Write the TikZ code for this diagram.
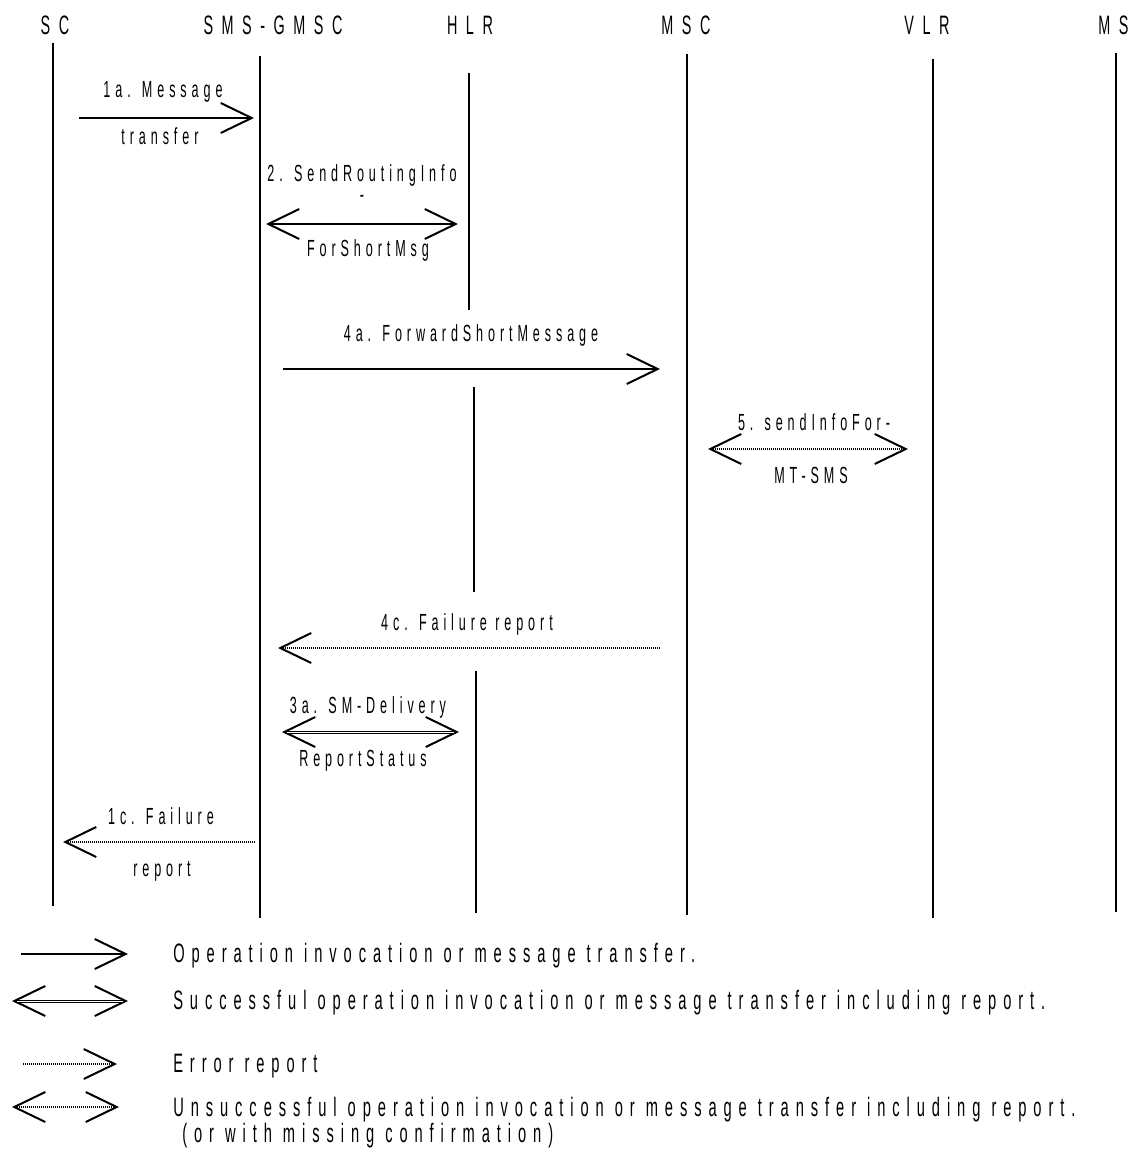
\documentclass[tikz,border=0pt]{standalone}
\usepackage{fontspec}
\setmainfont{Liberation Sans}
\newfontfamily\hdrfont[FakeStretch=0.54,LetterSpace=32]{Liberation Sans}
\newfontfamily\msgfont[FakeStretch=0.54,LetterSpace=21]{Liberation Sans}
\newfontfamily\legfont[FakeStretch=0.55,LetterSpace=26]{Liberation Sans}
\usetikzlibrary{arrows.meta}
\tikzset{
  life/.style={line width=1.5pt},
  hdr/.style={font=\hdrfont\fontsize{20}{22}\selectfont, inner sep=0pt, anchor=base},
  lbl/.style={font=\msgfont\fontsize{17.5}{20}\selectfont, inner sep=0pt, anchor=base},
  leg/.style={font=\legfont\fontsize{20}{22}\selectfont, inner sep=0pt, anchor=base west},
  barb/.tip={Straight Barb[length=23.25pt,width=22.5pt,line width=1.5pt]},
  msg/.style={line width=1.5pt, -{barb}},
  msgboth/.style={line width=1.5pt, {barb}-{barb}},
  okboth/.style={line width=2.25pt, {barb}-{barb}},
  err/.style={line width=1pt, dash pattern=on 0.75pt off 0.75pt, -{barb}},
  errboth/.style={line width=1pt, dash pattern=on 0.75pt off 0.75pt, {barb}-{barb}},
  gap/.style={line width=0.75pt, white, shorten <=4pt, shorten >=4pt}
}
\begin{document}
\begin{tikzpicture}[x=0.75pt,y=-0.75pt]
\fill[white] (0,0) rectangle (1128,1157);
\useasboundingbox (0,0) rectangle (1128,1157);

% headers
\node[hdr] (hSC)   at (55,34.5)   {SC};
\node[hdr] (hGM)   at (273,34.5)  {SMS-GMSC};
\node[hdr] (hHLR)  at (470,34.5)  {HLR};
\node[hdr] (hMSC)  at (686,34.5)  {MSC};
\node[hdr] (hVLR)  at (927,34.5)  {VLR};
\node[hdr, anchor=base west] (hMS) at (1098,34.5) {MS};

% lifelines
\coordinate (scT) at (53,43);   \coordinate (scB) at (53,906);
\coordinate (gmT) at (260,56);  \coordinate (gmB) at (260,918);
\coordinate (h1T) at (469,73);  \coordinate (h1B) at (469,310);
\coordinate (h2T) at (474,387); \coordinate (h2B) at (474,592);
\coordinate (h3T) at (476,671); \coordinate (h3B) at (476,913);
\coordinate (msT) at (687,54);  \coordinate (msB) at (687,915);
\coordinate (vlT) at (933,59);  \coordinate (vlB) at (933,918);
\coordinate (mT)  at (1116,53); \coordinate (mB)  at (1116,912);
\draw[life] (scT) -- (scB);
\draw[life] (gmT) -- (gmB);
\draw[life] (h1T) -- (h1B);
\draw[life] (h2T) -- (h2B);
\draw[life] (h3T) -- (h3B);
\draw[life] (msT) -- (msB);
\draw[life] (vlT) -- (vlB);
\draw[life] (mT) -- (mB);

% 1a
\node[lbl] (l1a) at (163,97.5) {1a. Message};
\node[lbl] (l1b) at (160,144.5) {transfer};
\coordinate (a1s) at (79,118); \coordinate (a1e) at (254,118);
\draw[msg] (a1s) -- (a1e);

% 2
\node[lbl, anchor=north, align=center, font=\msgfont\fontsize{17.5}{16}\selectfont] (l2a) at (362,164) {2. SendRoutingInfo\\-};
\node[lbl] (l2b) at (368,256.5) {ForShortMsg};
\coordinate (a2s) at (266,224); \coordinate (a2e) at (458,224);
\draw[msgboth] (a2s) -- (a2e);

% 4a
\node[lbl] (l4a) at (471,341.5) {4a. ForwardShortMessage};
\coordinate (a4s) at (283,369); \coordinate (a4e) at (660,369);
\draw[msg] (a4s) -- (a4e);

% 5
\node[lbl] (l5a) at (814,430.5) {5. sendInfoFor-};
\node[lbl] (l5b) at (811,483.5) {MT-SMS};
\coordinate (a5s) at (708,449); \coordinate (a5e) at (908,449);
\draw[errboth] (a5s) -- (a5e);

% 4c
\node[lbl] (l4c) at (467,630.5) {4c. Failure report};
\coordinate (a4cs) at (660,648); \coordinate (a4ce) at (278,648);
\draw[err] (a4cs) -- (a4ce);

% 3a
\node[lbl] (l3a) at (368,713.5) {3a. SM-Delivery};
\node[lbl] (l3b) at (363,766.5) {ReportStatus};
\coordinate (a3s) at (282,732); \coordinate (a3e) at (459,732);
\draw[okboth] (a3s) -- (a3e);
\draw[gap] (a3s) -- (a3e);

% 1c
\node[lbl] (l1ca) at (161,824.5) {1c. Failure};
\node[lbl] (l1cb) at (162,876.5) {report};
\coordinate (a1cs) at (255,842); \coordinate (a1ce) at (63,842);
\draw[err] (a1cs) -- (a1ce);

% legend
\coordinate (k1s) at (21,954);  \coordinate (k1e) at (128,954);
\draw[msg] (k1s) -- (k1e);
\node[leg] (t1) at (173,962.5) {Operation invocation or message transfer.};
\coordinate (k2s) at (12,1001); \coordinate (k2e) at (128,1001);
\draw[okboth] (k2s) -- (k2e);
\draw[gap] (k2s) -- (k2e);
\node[leg] (t2) at (173,1009.5) {Successful operation invocation or message transfer including report.};
\coordinate (k3s) at (23,1064); \coordinate (k3e) at (117,1064);
\draw[err] (k3s) -- (k3e);
\node[leg] (t3) at (173,1072.5) {Error report};
\coordinate (k4s) at (12,1107); \coordinate (k4e) at (119,1107);
\draw[errboth] (k4s) -- (k4e);
\node[leg] (t4) at (173,1116.5) {Unsuccessful operation invocation or message transfer including report.};
\node[leg] (t5) at (182,1142.5) {(or with missing confirmation)};
\end{tikzpicture}
\end{document}
